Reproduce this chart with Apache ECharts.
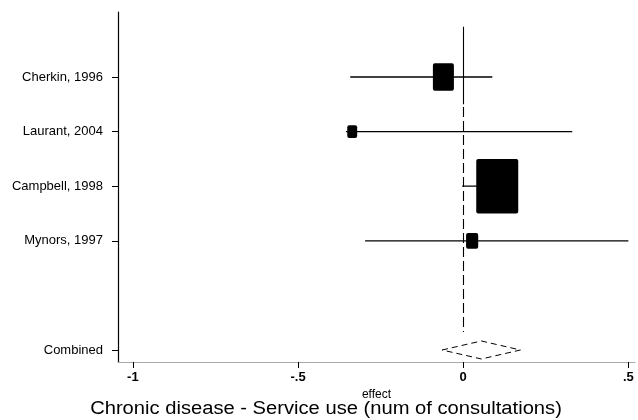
<!DOCTYPE html>
<html>
<head>
<meta charset="utf-8">
<script src="https://cdn.jsdelivr.net/npm/echarts@6/dist/echarts.min.js"></script>
<style>
  html, body { margin: 0; padding: 0; background: #fff; }
  #main { width: 638px; height: 420px; }
</style>
</head>
<body>
<div id="main"></div>
<script>
// studies, top to bottom
var studies = ['Cherkin, 1996', 'Laurant, 2004', 'Campbell, 1998', 'Mynors, 1997'];
var rows = [1, 2, 3, 4];
var effect = [-0.06, -0.336, 0.103, 0.027];
var ciLow = [-0.342, -0.355, -0.003, -0.297];
var ciHigh = [0.088, 0.33, 0.16, 0.5];
var weights = [18, 4, 72, 6];

// pooled estimate
var combinedLabel = 'Combined';
var combinedRow = 6;
var combinedEffect = 0.055;
var combinedLow = -0.064;
var combinedHigh = 0.173;

var xTicks = [-1, -0.5, 0, 0.5];
var xTickText = ['-1', '-.5', '0', '.5'];

var rowNames = {};
studies.forEach(function (s, i) { rowNames[rows[i]] = s; });
rowNames[combinedRow] = combinedLabel;
var yTicks = rows.concat([combinedRow]);

var font = '"Liberation Sans", Arial, Helvetica, sans-serif';

var studyData = studies.map(function (s, i) {
  return [effect[i], rows[i], ciLow[i], ciHigh[i], weights[i]];
});

var chart = echarts.init(document.getElementById('main'));
chart.setOption({
  backgroundColor: '#fff',
  animation: false,
  textStyle: { fontFamily: font },
  graphic: [{
    type: 'text', x: 326, y: 409, scaleX: 1.12, originX: 0, originY: 0,
    style: {
      text: 'Chronic disease - Service use (num of consultations)',
      font: '18px ' + font, fill: '#000', align: 'center', verticalAlign: 'middle'
    }
  }],
  grid: { left: 118, right: 3, top: 12, bottom: 58 },
  xAxis: {
    type: 'value', min: -1.045, max: 0.52,
    name: 'effect', nameLocation: 'middle', nameGap: 25,
    nameTextStyle: { fontSize: 12, color: '#000' },
    splitLine: { show: false },
    axisLine: { show: true, onZero: false, lineStyle: { color: '#aaa', width: 1.2 } },
    axisTick: { show: true, length: 6, customValues: xTicks, lineStyle: { color: '#000' } },
    axisLabel: {
      customValues: xTicks, margin: 9, color: '#000', fontSize: 13, fontWeight: 'bold',
      formatter: function (v) { return xTickText[xTicks.indexOf(v)]; }
    }
  },
  yAxis: {
    type: 'value', inverse: true, min: -0.19, max: 6.22,
    splitLine: { show: false },
    axisLine: { show: true, onZero: false, lineStyle: { color: '#000', width: 1.2 } },
    axisTick: { show: true, length: 6, customValues: yTicks, lineStyle: { color: '#000' } },
    axisLabel: {
      customValues: yTicks, margin: 15, color: '#000', fontSize: 13,
      formatter: function (v) { return rowNames[v] || ''; }
    }
  },
  series: [
    {
      type: 'custom',
      data: studyData,
      renderItem: function (params, api) {
        var c = api.coord([api.value(0), api.value(1)]);
        var a = api.coord([api.value(2), api.value(1)]);
        var b = api.coord([api.value(3), api.value(1)]);
        var w = 4.95 * Math.sqrt(api.value(4));
        var h = w * 1.3;
        return {
          type: 'group',
          children: [
            { type: 'line', shape: { x1: a[0], y1: a[1], x2: b[0], y2: b[1] },
              style: { stroke: '#000', lineWidth: 1.3 } },
            { type: 'rect', shape: { x: c[0] - w / 2, y: c[1] - h / 2, width: w, height: h, r: 2 },
              style: { fill: '#000' } }
          ]
        };
      },
      markLine: {
        silent: true, symbol: 'none', label: { show: false },
        data: [
          [{ coord: [0, 0.08] }, { coord: [0, 1.5], lineStyle: { type: 'solid', color: '#000', width: 1.1 } }],
          [{ coord: [0, 1.55] }, { coord: [0, 5.67], lineStyle: { type: [10, 4], color: '#000', width: 1.1 } }]
        ]
      }
    },
    {
      type: 'custom',
      data: [[combinedEffect, combinedRow, combinedLow, combinedHigh]],
      renderItem: function (params, api) {
        var c = api.coord([api.value(0), api.value(1)]);
        var a = api.coord([api.value(2), api.value(1)]);
        var b = api.coord([api.value(3), api.value(1)]);
        var hh = 9;
        return {
          type: 'polygon',
          shape: { points: [[a[0], a[1]], [c[0], c[1] - hh], [b[0], b[1]], [c[0], c[1] + hh]] },
          style: { fill: 'none', stroke: '#000', lineWidth: 1, lineDash: [6, 4] }
        };
      }
    }
  ]
});
</script>
</body>
</html>
